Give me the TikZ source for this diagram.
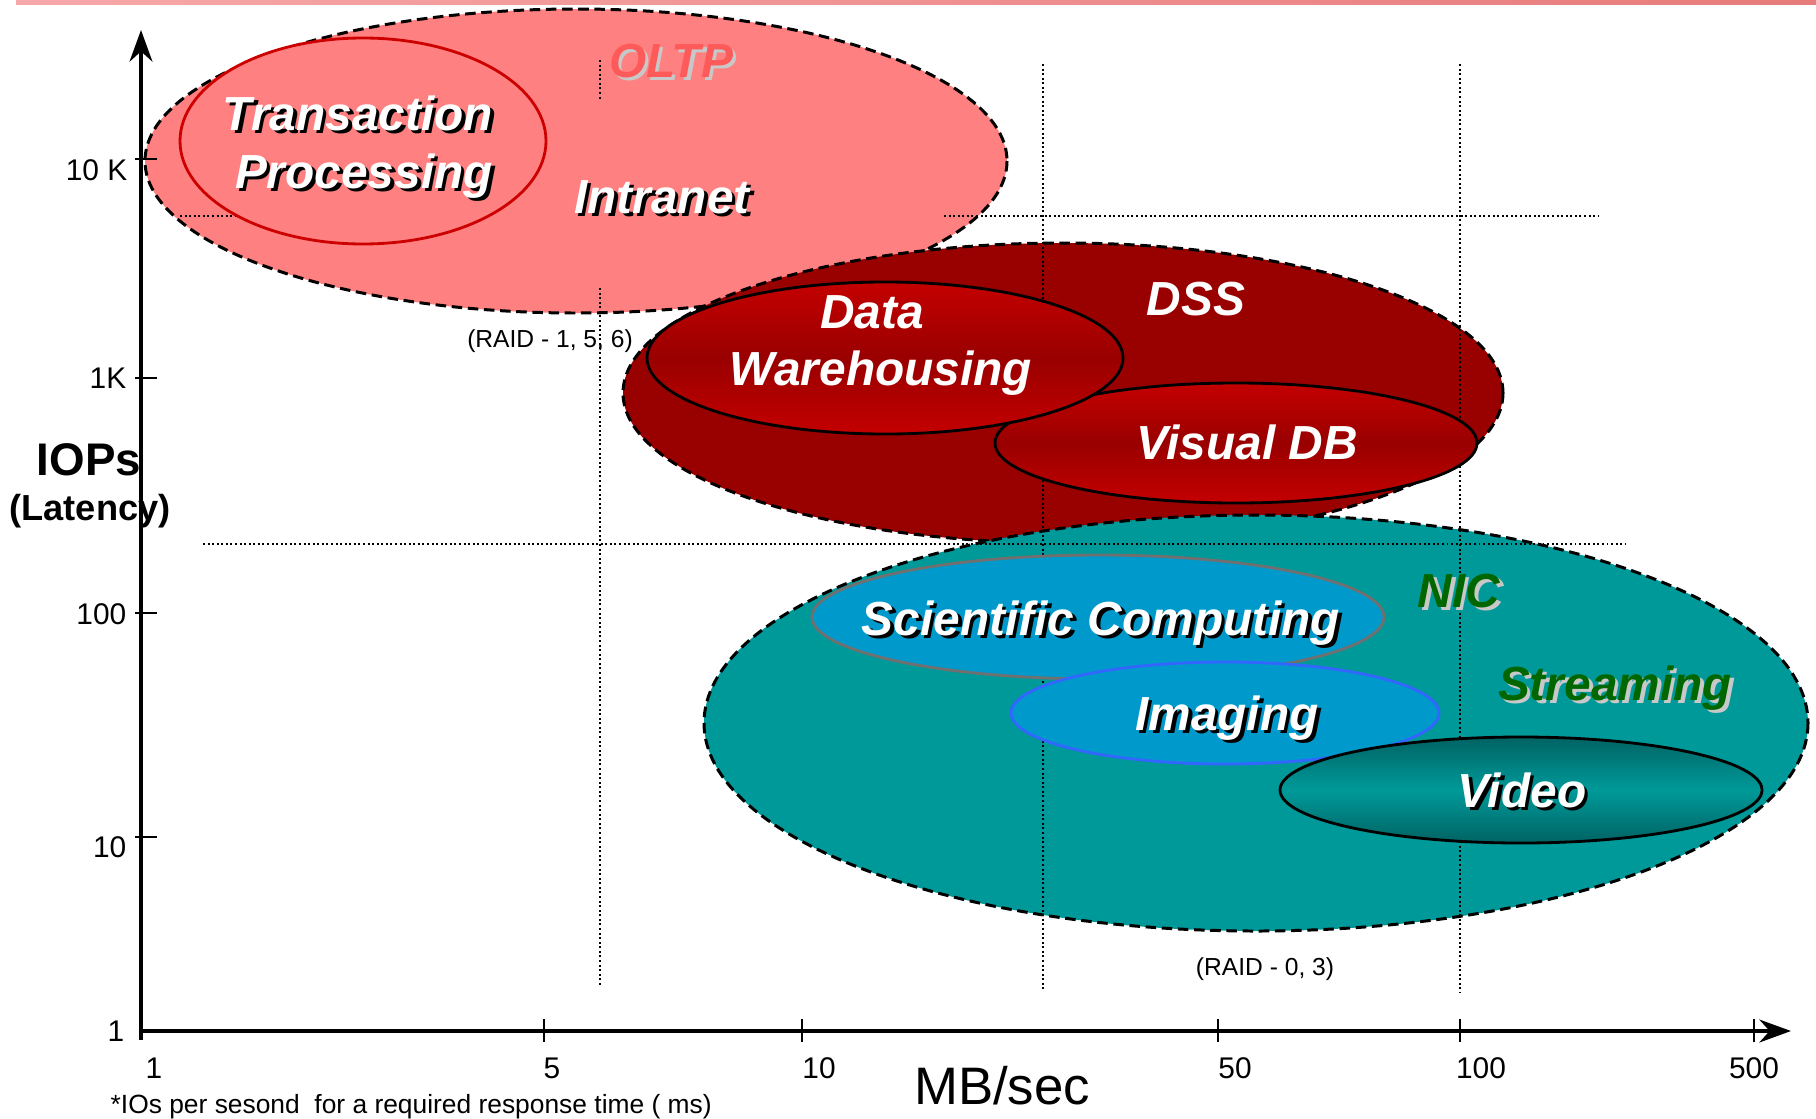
\documentclass[tikz,border=0pt]{standalone}
\usepackage{fontspec}
\setmainfont{Liberation Sans}
\usepackage{tikz}
\usetikzlibrary{arrows.meta}

\definecolor{oltpfill}{HTML}{FF8080}
\definecolor{oltptext}{HTML}{FF5A5A}
\definecolor{tpline}{HTML}{CC0000}
\definecolor{dssfill}{HTML}{990000}
\definecolor{dwlight}{HTML}{C40000}
\definecolor{nicfill}{HTML}{009999}
\definecolor{videodark}{HTML}{006363}
\definecolor{scifill}{HTML}{0099CC}
\definecolor{sciline}{HTML}{707070}
\definecolor{imgline}{HTML}{3366FF}
\definecolor{nicgreen}{HTML}{006600}
\definecolor{lightshade}{HTML}{C8C8C8}
\definecolor{barleft}{HTML}{F7A8A8}
\definecolor{barright}{HTML}{E77B7B}

\tikzset{
    region/.style={draw=black, line width=0.85pt, dash pattern=on 3pt off 1.6pt},
    subregion/.style={line width=0.8pt},
    guide/.style={draw=black, line width=0.55pt, dash pattern=on 0.55pt off 0.75pt},
    axis/.style={draw=black, line width=0.9pt, -{Stealth[length=9pt,width=6.5pt]}},
    tick/.style={draw=black, line width=0.6pt},
    app/.style={font=\fontsize{13.6}{16}\selectfont\bfseries\itshape, inner sep=0pt, anchor=base},
    ticklabel/.style={font=\fontsize{8.5}{10}\selectfont, inner sep=0pt, anchor=base},
    raid/.style={font=\fontsize{7}{8}\selectfont, inner sep=0pt, anchor=base},
}
% name, base point, shadow colour, text colour, text
\newcommand{\shadowlabel}[5]{%
    \node[app, text=#3, xshift=0.035cm, yshift=-0.03cm] (#1-sh) at (#2) {#5};
    \node[app, text=#4] (#1) at (#2) {#5};}

\begin{document}
\begin{tikzpicture}[x=0.01cm, y=-0.01cm]
	\useasboundingbox (0,0) rectangle (1816,1118);
	\fill[left color=barleft, right color=barright] (16,0) rectangle (1816,4);

	% OLTP
	\fill[oltpfill] (576,161) ellipse [x radius=431, y radius=152];
	\draw[region] (576,161) ellipse [x radius=431, y radius=152];
	\draw[guide] (180,216) -- (243,216);
	\draw[subregion, draw=tpline, fill=oltpfill] (363,141) ellipse [x radius=183, y radius=103];

	% DSS and NIC
	\draw[region, fill=dssfill] (1063,393) ellipse [x radius=440, y radius=150];
	\draw[region, fill=nicfill] (1256,723) ellipse [x radius=552, y radius=208];

	\draw[guide] (600,60) -- (600,100);
	\draw[guide] (600,288) -- (600,985);
	\draw[guide] (1043,64) -- (1043,990);
	\draw[guide] (1460,64) -- (1460,993);
	\draw[guide] (944,216) -- (1598,216);
	\draw[guide] (203,544) -- (1625,544);

	\draw[subregion, top color=dwlight, bottom color=dwlight, middle color=dssfill]
		(1236,443) ellipse [x radius=241, y radius=60];
	\draw[subregion, top color=dwlight, bottom color=dwlight, middle color=dssfill]
		(885,358) ellipse [x radius=238, y radius=76];
	\draw[subregion, draw=sciline, fill=scifill] (1098,617) ellipse [x radius=286, y radius=62];
	\draw[subregion, draw=imgline, fill=scifill] (1225,713) ellipse [x radius=214, y radius=51];
	\draw[subregion, top color=videodark, bottom color=videodark, middle color=nicfill]
		(1521,790) ellipse [x radius=241, y radius=53];

	% axes
	\coordinate (O) at (141,1040);
	\coordinate (ytop) at (141,30);
	\coordinate (xO) at (141,1031);
	\coordinate (xend) at (1791,1031);
	\draw[axis] (O) -- (ytop);
	\draw[axis, line width=1.1pt] (xO) -- (xend);
	\draw[tick] (135,159) -- (157,159);
	\draw[tick] (135,378) -- (157,378);
	\draw[tick] (135,613) -- (157,613);
	\draw[tick] (135,837) -- (157,837);
	\draw[tick] (544,1019) -- (544,1042);
	\draw[tick] (802,1019) -- (802,1042);
	\draw[tick] (1218,1019) -- (1218,1042);
	\draw[tick] (1460,1019) -- (1460,1042);
	\draw[tick] (1754,1019) -- (1754,1042);

	\node[ticklabel, anchor=base east] (y10k) at (128,180) {10 K};
	\node[ticklabel, anchor=base east] (y1k) at (127,388) {1K};
	\node[ticklabel, anchor=base east] (y100) at (127,624) {100};
	\node[ticklabel, anchor=base east] (y10) at (127,857) {10};
	\node[ticklabel, anchor=base east] (y1) at (125,1041) {1};
	\node[ticklabel] (x1) at (154,1078) {1};
	\node[ticklabel] (x5) at (552,1078) {5};
	\node[ticklabel] (x10) at (819,1078) {10};
	\node[ticklabel] (x50) at (1235,1078) {50};
	\node[ticklabel] (x100) at (1481,1078) {100};
	\node[ticklabel] (x500) at (1754,1078) {500};

	\node[anchor=base, inner sep=0pt, font=\fontsize{15}{17}\selectfont] (mbsec) at (1002,1104) {MB/sec};
	\node[anchor=base, inner sep=0pt, font=\fontsize{13}{15}\selectfont\bfseries] (iops) at (89,475) {IOPs};
	\node[anchor=base, inner sep=0pt, font=\fontsize{10.3}{12}\selectfont\bfseries] (latency) at (90,520) {(Latency)};
	\node[anchor=base west, inner sep=0pt, font=\fontsize{7.5}{9}\selectfont] (note) at (110,1113)
		{*IOs per sesond\ \ for a required response time ( ms)};

	\node[raid] (raidA) at (550,347) {(RAID - 1, 5, 6)};
	\node[raid] (raidB) at (1265,975) {(RAID - 0, 3)};

	% application labels
	\shadowlabel{oltp}{671,77}{lightshade}{oltptext}{OLTP}
	\shadowlabel{trans}{358,130}{black}{white}{Transaction}
	\shadowlabel{proc}{364,188}{black}{white}{Processing}
	\shadowlabel{intranet}{662,213}{black}{white}{Intranet}
	\node[app, text=white] (data) at (872,328) {Data};
	\node[app, text=white] (wareh) at (881,385) {Warehousing};
	\node[app, text=white] (dss) at (1196,315) {DSS};
	\node[app, text=white] (visdb) at (1247,459) {Visual DB};
	\shadowlabel{scicomp}{1101,635}{black}{white}{Scientific Computing}
	\shadowlabel{nic}{1459,607}{lightshade}{nicgreen}{NIC}
	\shadowlabel{stream}{1615,700}{lightshade}{nicgreen}{Streaming}
	\shadowlabel{imaging}{1227,730}{black}{white}{Imaging}
	\shadowlabel{video}{1522,807}{black}{white}{Video}
\end{tikzpicture}
\end{document}
